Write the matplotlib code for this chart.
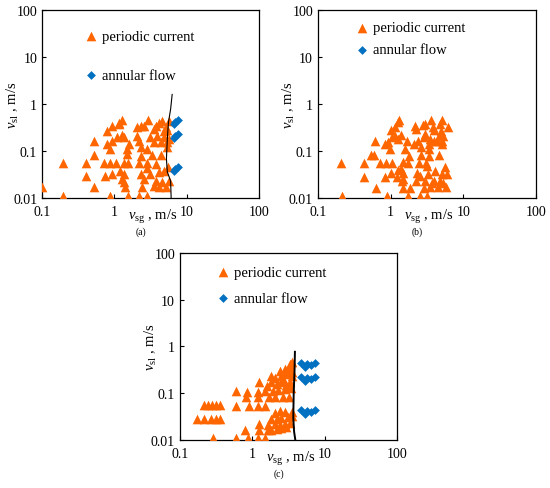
import matplotlib
matplotlib.use('Agg')
import matplotlib.pyplot as plt
from matplotlib.ticker import FixedLocator, FixedFormatter, NullLocator

plt.rcParams['font.family'] = ['Liberation Serif', 'DejaVu Serif']
plt.rcParams['mathtext.fontset'] = 'custom'
plt.rcParams['mathtext.rm'] = 'Liberation Serif'
plt.rcParams['mathtext.it'] = 'Liberation Serif:italic'

ORANGE = '#FF6600'
BLUE = '#0070C0'

# ---- panel (a) ----
vsg_a_periodic = [1.28, 1.17, 2.90, 2.30, 4.59, 5.68, 0.93, 0.79, 1.15, 2.07, 2.55, 3.71, 3.52, 5.11,
                  1.09, 1.28, 1.35, 2.07, 3.16, 3.91, 4.84, 5.68, 0.53, 0.93, 0.79, 1.58, 2.18, 3.52,
                  4.35, 5.39, 0.88, 1.50, 2.30, 2.84, 5.39, 0.53, 1.50, 2.30, 3.33, 4.35,
                  0.198, 0.41, 0.71, 0.88, 1.07, 1.35, 1.53, 2.18, 2.84, 3.71,
                  1.21, 2.84, 1.35, 0.93, 0.75, 0.41, 2.30, 3.16, 4.13, 4.84,
                  1.28, 2.55, 3.71, 4.59, 5.68, 1.35, 0.10, 0.53, 1.42, 2.42, 3.52, 4.13, 5.11,
                  0.198, 0.86, 1.53, 2.18, 2.84, 5.4, 5.6, 4.9, 4.2]
vsl_a_periodic = [0.457, 0.39, 0.457, 0.346, 0.44, 0.44, 0.335, 0.27, 0.375, 0.32, 0.346, 0.346, 0.294, 0.32,
                  0.195, 0.223, 0.195, 0.212, 0.195, 0.212, 0.195, 0.18, 0.166, 0.166, 0.141, 0.141, 0.166, 0.153,
                  0.153, 0.153, 0.11, 0.11, 0.12, 0.11, 0.12, 0.082, 0.086, 0.08, 0.082, 0.082,
                  0.055, 0.055, 0.055, 0.055, 0.055, 0.055, 0.055, 0.055, 0.055, 0.052,
                  0.038, 0.0435, 0.032, 0.032, 0.030, 0.030, 0.032, 0.032, 0.035, 0.038,
                  0.025, 0.025, 0.023, 0.0216, 0.023, 0.0216, 0.0169, 0.0169, 0.0169, 0.0169, 0.018, 0.0175, 0.0169,
                  0.0112, 0.0112, 0.0112, 0.0112, 0.0112, 0.28, 0.045, 0.27, 0.40]
vsg_a_annular = [6.6, 7.0, 7.5, 6.6, 7.0, 7.5, 6.6, 7.0, 7.5]
vsl_a_annular = [0.38, 0.42, 0.45, 0.19, 0.21, 0.23, 0.038, 0.042, 0.046]
vsg_a_boundary = [6.3, 6.0, 5.6, 5.4, 5.25, 5.4, 6.0, 6.1]
vsl_a_boundary = [1.6, 0.78, 0.41, 0.18, 0.068, 0.036, 0.023, 0.01]

# ---- panel (b) ----
vsg_b_periodic = [1.32, 1.26, 1.15, 1.02, 3.62, 2.99, 3.78, 3.90, 5.08, 4.82, 6.08, 2.18, 2.22, 2.75,
                  1.04, 1.15, 1.40, 1.28, 2.99, 2.84, 3.51, 4.57, 5.25, 4.92,
                  0.61, 0.84, 0.933, 1.67, 2.13, 2.42, 3.33, 3.90, 4.34, 5.08, 5.08,
                  0.984, 1.58, 2.64, 3.40, 0.532, 0.592, 1.82, 2.64, 3.33, 4.67,
                  0.207, 0.435, 0.716, 0.857, 1.06, 1.50, 1.73, 2.47, 3.06, 3.16, 5.53,
                  1.28, 1.40, 1.46, 1.02, 0.435, 0.84, 1.22, 2.30, 2.55, 3.26, 4.11, 5.08, 5.96,
                  1.50, 1.43, 2.22, 2.99, 3.90, 4.82, 5.25, 3.70,
                  0.63, 1.46, 1.86, 2.84, 3.51, 4.48, 5.77,
                  0.217, 0.885, 1.73, 2.55, 3.16]
vsl_b_periodic = [0.457, 0.41, 0.33, 0.28, 0.457, 0.375, 0.33, 0.28, 0.457, 0.375, 0.33, 0.335, 0.29, 0.35,
                  0.195, 0.212, 0.223, 0.18, 0.23, 0.2, 0.18, 0.212, 0.212, 0.27,
                  0.166, 0.141, 0.153, 0.166, 0.141, 0.166, 0.141, 0.166, 0.166, 0.141, 0.166,
                  0.11, 0.11, 0.12, 0.11, 0.0835, 0.0835, 0.08, 0.0835, 0.08, 0.0835,
                  0.055, 0.055, 0.055, 0.055, 0.055, 0.057, 0.055, 0.055, 0.055, 0.049, 0.045,
                  0.039, 0.041, 0.0335, 0.0335, 0.0284, 0.0284, 0.0284, 0.0335, 0.030, 0.032, 0.037, 0.032, 0.032,
                  0.025, 0.0226, 0.0226, 0.0226, 0.023, 0.023, 0.0205, 0.0205,
                  0.0163, 0.0163, 0.0163, 0.0163, 0.0169, 0.0169, 0.0169,
                  0.0112, 0.0112, 0.0112, 0.0112, 0.0112]

# ---- panel (c) ----
vsg_c_periodic = [0.29, 0.59, 0.88, 1.19, 1.50,
                  0.79, 1.24, 1.66, 1.85, 2.17, 2.54, 2.98,
                  1.24, 1.66, 2.06, 2.41, 2.83, 3.32,
                  0.17, 0.214, 0.266, 0.315, 0.357, 1.85, 2.17, 2.54, 3.15, 3.50,
                  2.06, 2.41, 2.83, 3.50,
                  0.217, 0.246, 0.274, 0.315, 0.357, 0.59, 0.90, 1.19, 1.50,
                  0.81, 1.21, 1.70, 2.06, 2.68, 3.2,
                  0.59, 0.86, 1.19, 1.50, 1.95, 2.29, 2.83, 3.42,
                  1.25, 1.85, 1.58, 2.17, 2.54, 3.32, 2.9,
                  1.81, 2.06, 2.49, 2.98, 3.50, 2.7,
                  2.41, 2.83, 3.32, 3.50, 3.0,
                  3.32, 3.57]
vsl_c_periodic = [0.0109, 0.0109, 0.0109, 0.0109, 0.0109,
                  0.0166, 0.0166, 0.0166, 0.0166, 0.0172, 0.0178, 0.0187,
                  0.022, 0.021, 0.022, 0.021, 0.022, 0.023,
                  0.028, 0.028, 0.028, 0.028, 0.028, 0.028, 0.028, 0.029, 0.0306, 0.033,
                  0.038, 0.042, 0.039, 0.040,
                  0.055, 0.055, 0.055, 0.055, 0.055, 0.054, 0.054, 0.054, 0.054,
                  0.082, 0.082, 0.082, 0.082, 0.082, 0.085,
                  0.113, 0.108, 0.108, 0.113, 0.113, 0.119, 0.123, 0.127,
                  0.171, 0.171, 0.145, 0.158, 0.171, 0.171, 0.15,
                  0.23, 0.208, 0.238, 0.258, 0.23, 0.2,
                  0.304, 0.33, 0.358, 0.28, 0.3,
                  0.42, 0.458]
vsg_c_annular = [4.8, 5.3, 5.8, 6.5, 7.4, 4.8, 5.3, 5.8, 6.5, 7.4, 4.8, 5.3, 5.8, 6.5, 7.4]
vsl_c_annular = [0.44, 0.36, 0.42, 0.40, 0.44, 0.22, 0.18, 0.21, 0.20, 0.22, 0.044, 0.036, 0.042, 0.040, 0.044]
vsg_c_boundary = [3.9, 3.85, 3.75, 3.7, 3.8, 3.95]
vsl_c_boundary = [0.77, 0.3, 0.1, 0.03, 0.015, 0.01]

x_ticks = [0.1, 1, 10, 100]
x_tick_labels = ['0.1', '1', '10', '100']
y_ticks = [0.01, 0.1, 1, 10, 100]
y_tick_labels = ['0.01', '0.1', '1', '10', '100']


def setup_axes(ax):
    ax.set_xscale('log')
    ax.set_yscale('log')
    ax.set_xlim(0.1, 100)
    ax.set_ylim(0.01, 100)
    ax.xaxis.set_major_locator(FixedLocator(x_ticks))
    ax.xaxis.set_major_formatter(FixedFormatter(x_tick_labels))
    ax.yaxis.set_major_locator(FixedLocator(y_ticks))
    ax.yaxis.set_major_formatter(FixedFormatter(y_tick_labels))
    ax.xaxis.set_minor_locator(NullLocator())
    ax.yaxis.set_minor_locator(NullLocator())
    ax.tick_params(direction='in', length=3, width=0.8, labelsize=10, color='black')
    ax.tick_params(axis='x', pad=5)
    ax.tick_params(axis='y', pad=3.5)
    for s in ax.spines.values():
        s.set_linewidth(0.9)
        s.set_color('black')
    ax.set_xlabel(r'$v_{\mathrm{sg}}$ , m/s', fontsize=10.5)
    ax.set_ylabel(r'$v_{\mathrm{sl}}$ , m/s', fontsize=10.5)
    ax.xaxis.set_label_coords(0.51, -0.05)
    ax.yaxis.set_label_coords(-0.095, 0.5)


def draw_panel(ax, vsg_p, vsl_p, vsg_an, vsl_an, line=None, legend_pos=(0.2, 0.9), spacing=1.0, tag=''):
    setup_axes(ax)
    ax.scatter(vsg_p, vsl_p, marker='^', s=48, color=ORANGE, linewidths=0, label='periodic current', zorder=3)
    ax.scatter(vsg_an, vsl_an, marker='D', s=20, color=BLUE, linewidths=0, label='annular flow', zorder=4)
    if line is not None:
        ax.plot(line[0], line[1], color='black', lw=line[2], zorder=5)
    ax.legend(loc='upper left', bbox_to_anchor=legend_pos, frameon=False, fontsize=10.5,
              handlelength=0.8, handletextpad=0.35, borderpad=0, borderaxespad=0,
              labelspacing=spacing, scatterpoints=1)
    ax.text(0.456, -0.175, tag, transform=ax.transAxes, ha='center', va='center', fontsize=7)


def main():
    fig = plt.figure(figsize=(5.5, 4.89), dpi=100)
    ax_a = fig.add_axes([0.0764, 0.593, 0.3945, 0.3845])
    ax_b = fig.add_axes([0.578, 0.593, 0.3965, 0.3845])
    ax_c = fig.add_axes([0.327, 0.0982, 0.3945, 0.3824])

    draw_panel(ax_a, vsg_a_periodic, vsl_a_periodic, vsg_a_annular, vsl_a_annular,
               line=(vsg_a_boundary, vsl_a_boundary, 0.8), legend_pos=(0.2, 0.895), spacing=1.75, tag='(a)')
    draw_panel(ax_b, vsg_b_periodic, vsl_b_periodic, [], [],
               legend_pos=(0.175, 0.94), spacing=0.6, tag='(b)')
    draw_panel(ax_c, vsg_c_periodic, vsl_c_periodic, vsg_c_annular, vsl_c_annular,
               line=(vsg_c_boundary, vsl_c_boundary, 1.4), legend_pos=(0.17, 0.932), spacing=0.85, tag='(c)')

    fig.savefig('out.png', dpi=100, facecolor='white')


if __name__ == '__main__':
    main()
